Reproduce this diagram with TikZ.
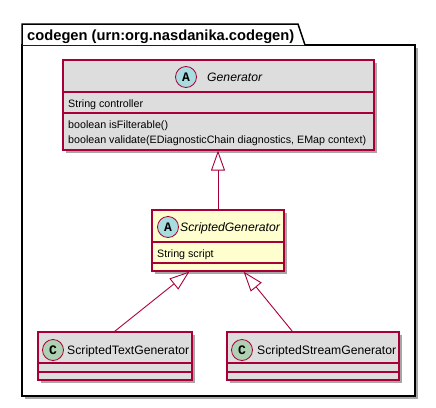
\documentclass[tikz,border=0pt]{standalone}
\usepackage{fontspec}
\setmainfont{Liberation Sans}
\newfontfamily\monob{Liberation Mono}
\usetikzlibrary{arrows.meta,shadows}
\definecolor{umlred}{HTML}{A80036}
\definecolor{umlgrey}{HTML}{DDDDDD}
\definecolor{umlyellow}{HTML}{FEFECE}
\definecolor{circA}{HTML}{A9DCDF}
\definecolor{circC}{HTML}{ADD1B2}
\tikzset{
  classbox/.style={draw=umlred, line width=1.2pt, inner sep=0pt, rectangle,
    drop shadow={shadow xshift=3pt, shadow yshift=-3pt, opacity=0.35, fill=black}},
  sep/.style={draw=umlred, line width=1.2pt},
  spot/.style={circle, draw=umlred, line width=0.8pt, minimum size=21pt, inner sep=0pt, font=\monob\bfseries\fontsize{13}{13}\selectfont},
  cname/.style={anchor=base west, inner sep=0pt, font=\fontsize{12.2}{14}\selectfont},
  member/.style={anchor=base west, inner sep=0pt, font=\fontsize{10.7}{13}\selectfont},
  ext/.style={draw=umlred, line width=0.9pt, -{Triangle[open, fill=white, length=20pt, width=14pt]}},
}
\begin{document}
\begin{tikzpicture}[x=1pt,y=-1pt]
\useasboundingbox (0,0) rectangle (436,407);
% package
\fill[white, drop shadow={shadow xshift=3pt, shadow yshift=-3pt, opacity=0.35, fill=black}] (22,45) rectangle (415,396);
\draw[line width=1.5pt, fill=white] (22,45) rectangle (415,396);
\draw[line width=1.5pt, fill=white] (22,45) -- (22,24) -- (298,24) -- (305,45);
\node[anchor=base west, inner sep=0pt, font=\bfseries\fontsize{14.7}{16}\selectfont] (pkg) at (27,40) {codegen (urn:org.nasdanika.codegen)};
% Generator
\node[classbox, fill=umlgrey, minimum width=311pt, minimum height=90pt] (gen) at (218.5,105) {};
\draw[sep] (63,92) -- (374,92);
\draw[sep] (63,113) -- (374,113);
\node[spot, fill=circA] (genspot) at (186,77) {A};
\node[cname, font=\itshape\fontsize{12.2}{14}\selectfont] (genname) at (207,81) {Generator};
\node[member] (gena) at (68,107) {String controller};
\node[member] (genm1) at (68,128) {boolean isFilterable()};
\node[member] (genm2) at (68,143) {boolean validate(EDiagnosticChain diagnostics, EMap context)};
% ScriptedGenerator
\node[classbox, fill=umlyellow, minimum width=132pt, minimum height=61pt] (sg) at (218,240.5) {};
\draw[sep] (152,242) -- (284,242);
\draw[sep] (152,263) -- (284,263);
\node[spot, fill=circA] (sgspot) at (168,227) {A};
\node[cname, font=\itshape\fontsize{12.2}{14}\selectfont] (sgname) at (180,231) {ScriptedGenerator};
\node[member] (sga) at (157,257) {String script};
% ScriptedTextGenerator
\node[classbox, fill=umlgrey, minimum width=154pt, minimum height=48pt] (stg) at (115,356) {};
\draw[sep] (38,363) -- (192,363);
\draw[sep] (38,372) -- (192,372);
\node[spot, fill=circC] (stgspot) at (53,350) {C};
\node[cname] (stgname) at (67,354) {ScriptedTextGenerator};
% ScriptedStreamGenerator
\node[classbox, fill=umlgrey, minimum width=172pt, minimum height=48pt] (ssg) at (313,356) {};
\draw[sep] (227,363) -- (399,363);
\draw[sep] (227,372) -- (399,372);
\node[spot, fill=circC] (ssgspot) at (242,350) {C};
\node[cname] (ssgname) at (257,354) {ScriptedStreamGenerator};
% connectors
\draw[ext] (sg.north) -- (gen.south -| sg.north);
\draw[ext] ([xshift=-78pt]stg.north east) -- ([xshift=38pt]sg.south west);
\draw[ext] ([xshift=66pt]ssg.north west) -- ([xshift=-41pt]sg.south east);
\end{tikzpicture}
\end{document}
